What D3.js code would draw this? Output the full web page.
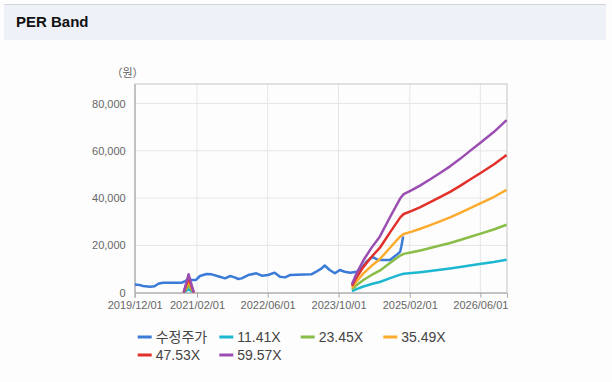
<!DOCTYPE html>
<html><head><meta charset="utf-8">
<script src="https://cdn.jsdelivr.net/npm/d3@7"></script>
<style>
html,body{margin:0;padding:0;background:#fff;}
svg{display:block;}
</style></head>
<body>
<script>
// ---- data ----
const priceDates = ["2019-12-01","2020-01-01","2020-01-28","2020-03-15","2020-04-15","2020-05-15","2020-06-15","2020-10-20","2020-11-15","2020-12-05","2020-12-25","2021-01-25","2021-02-21","2021-04-07","2021-05-13","2021-07-07","2021-08-13","2021-09-15","2021-10-18","2021-11-12","2021-12-04","2022-01-19","2022-03-16","2022-04-22","2022-06-04","2022-07-19","2022-08-25","2022-09-28","2022-11-01","2023-03-28","2023-05-01","2023-06-07","2023-06-28","2023-08-01","2023-09-06","2023-10-10","2023-11-12","2023-12-20","2024-02-03","2024-03-07","2024-04-10","2024-05-20","2024-07-01","2024-09-18","2024-11-01","2024-11-27","2024-12-05","2024-12-18"];
const priceValues = [3500,3300,2830,2540,2700,3900,4230,4230,5000,6200,5400,5400,7060,7900,7760,6770,6060,7060,6480,5790,6060,7480,8200,7200,7480,8460,6770,6480,7480,7760,8880,10300,11500,9600,8200,9600,8880,8460,8880,10300,13100,15100,13800,13800,15900,17300,19400,23800];

const bandDates = ["2020-11-01","2020-12-05","2021-01-10","2022-06-01","2024-01-01","2024-02-01","2024-03-20","2024-05-15","2024-07-10","2024-09-20","2024-11-28","2024-12-22","2025-02-15","2025-04-15","2025-06-22","2025-08-28","2025-11-05","2026-01-13","2026-03-20","2026-05-28","2026-09-01","2026-11-28"];
const band1141 = [0,1495,0,null,685,1540,2624,3651,4541,6150,7645,7987,8306,8694,9185,9699,10235,10840,11467,12106,13007,13977];
const band2345 = [0,3072,0,null,1407,3166,5394,7504,9333,12640,15712,16415,17072,17869,18877,19933,21035,22278,23567,24880,26733,28726];
const band3549 = [0,4649,0,null,2129,4791,8163,11357,14125,19129,23778,24843,25837,27043,28569,30167,31835,33716,35667,37655,40459,43475];
const band4753 = [0,6226,0,null,2852,6417,10932,15210,18917,25619,31845,33271,34602,36218,38262,40401,42634,45154,47768,50429,54184,58224];
const band5957 = [0,7804,0,null,3574,8042,13701,19062,23709,32108,39912,41699,43367,45392,47954,50635,53434,56592,59868,63204,67910,72973];

const seriesNames = ["수정주가","11.41X","23.45X","35.49X","47.53X","59.57X"];
const seriesColors = ["#3a7bd8","#1db7d0","#8abd48","#fbab2e","#e2302b","#9b4eb2"];
const xTickLabels = ["2019/12/01","2021/02/01","2022/06/01","2023/10/01","2025/02/01","2026/06/01"];
const yTicks = [0,20000,40000,60000,80000];

// ---- chart ----
const W = 612, H = 382;
const parse = d3.timeParse("%Y-%m-%d");
const parseTick = d3.timeParse("%Y/%m/%d");
const svg = d3.select("body").append("svg").attr("width", W).attr("height", H);

svg.append("rect").attr("x",0).attr("y",0).attr("width",W).attr("height",H).attr("fill","#fdfdfd");
// header
svg.append("rect").attr("x",4).attr("y",5).attr("width",602).attr("height",35).attr("fill","#eef2f8");
svg.append("line").attr("x1",4).attr("x2",606).attr("y1",4.5).attr("y2",4.5).attr("stroke","#d4d4d4");
svg.append("text").attr("x",16).attr("y",27).text("PER Band")
  .attr("font-family","'Liberation Sans',Arial,sans-serif").attr("font-weight","bold").attr("font-size",15).attr("fill","#111");

const m = {l:134.7, r:507, t:84, b:292.7};
const x = d3.scaleTime().domain([parse("2019-12-01"), parse("2026-12-01")]).range([m.l, m.r]);
const y = d3.scaleLinear().domain([0, 88250]).range([m.b, m.t]);

const font = "'Liberation Sans',Arial,sans-serif";
// grid
const g = svg.append("g");
g.selectAll(".hg").data(yTicks.slice(1)).join("line")
  .attr("x1",m.l).attr("x2",m.r).attr("y1",d=>y(d)).attr("y2",d=>y(d)).attr("stroke","#e6e6e6");
g.selectAll(".vg").data(xTickLabels.slice(1)).join("line")
  .attr("x1",d=>x(parseTick(d))).attr("x2",d=>x(parseTick(d))).attr("y1",m.t).attr("y2",m.b).attr("stroke","#e6e6e6");
// border
svg.append("rect").attr("x",m.l).attr("y",m.t).attr("width",m.r-m.l).attr("height",m.b-m.t)
  .attr("fill","none").attr("stroke","#c4c4c4");

// axes
const xAxis = d3.axisBottom(x).tickValues(xTickLabels.map(parseTick)).tickFormat(d3.timeFormat("%Y/%m/%d")).tickSize(5).tickPadding(4);
const xg = svg.append("g").attr("transform",`translate(0,${m.b})`).call(xAxis);
xg.select(".domain").attr("stroke","#aaa");
xg.selectAll(".tick line").attr("stroke","#aaa");
xg.selectAll("text").attr("font-family",font).attr("font-size",11).attr("fill","#666");

const yAxis = d3.axisLeft(y).tickValues(yTicks).tickFormat(d3.format(",")).tickSize(0).tickPadding(9);
const yg = svg.append("g").attr("transform",`translate(${m.l},0)`).call(yAxis);
yg.select(".domain").attr("stroke","#aaa");
yg.selectAll("text").attr("font-family",font).attr("font-size",11).attr("fill","#666");

svg.append("text").attr("x",127.5).attr("y",76.5).attr("text-anchor","middle").text("（원）")
  .attr("font-family","'Noto Sans CJK KR',sans-serif").attr("font-size",11).attr("fill","#666");

// lines
const line = d3.line().defined(d=>d[1]!==null).x(d=>x(d[0])).y(d=>y(d[1]));
const bands = [band1141, band2345, band3549, band4753, band5957];
const clip = svg.append("defs").append("clipPath").attr("id","c").append("rect")
  .attr("x",m.l).attr("y",m.t-2).attr("width",m.r-m.l+2).attr("height",m.b-m.t+2);
const lg = svg.append("g").attr("clip-path","url(#c)");
const pp = priceDates.map((d,j)=>[parse(d), priceValues[j]]);
lg.append("path").attr("d", line(pp)).attr("fill","none").attr("stroke",seriesColors[0])
  .attr("stroke-width",2.5).attr("stroke-linejoin","round");
bands.forEach((b,i)=>{
  const pts = bandDates.map((d,j)=>[parse(d), b[j]]);
  lg.append("path").attr("d", line(pts)).attr("fill","none").attr("stroke",seriesColors[i+1])
    .attr("stroke-width",2.5).attr("stroke-linejoin","round");
});

// legend
const legX = [137.7, 219.3, 300.7, 383.3];
const legY = [337, 355];
seriesNames.forEach((n,i)=>{
  const lx = legX[i%4], ly = legY[Math.floor(i/4)];
  svg.append("line").attr("x1",lx).attr("x2",lx+14).attr("y1",ly).attr("y2",ly)
    .attr("stroke",seriesColors[i]).attr("stroke-width",3);
  svg.append("text").attr("x",lx+18).attr("y",ly+5).text(n)
    .attr("font-family", i===0 ? "'Noto Sans CJK KR',sans-serif" : font)
    .attr("font-size",14).attr("fill","#444");
});
</script>
</body></html>
